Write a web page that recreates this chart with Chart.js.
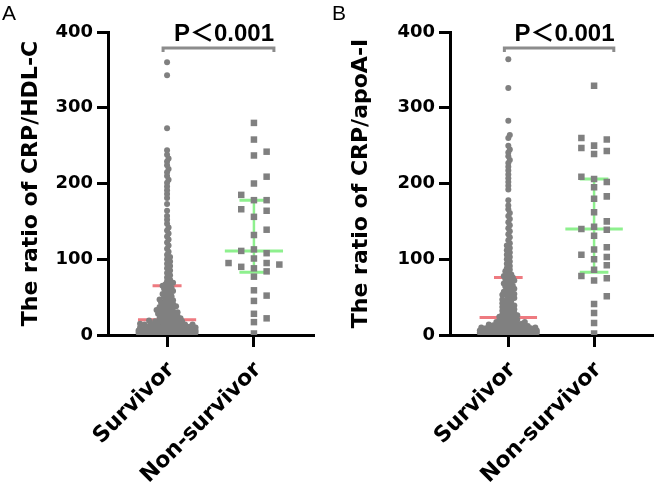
<!DOCTYPE html>
<html>
<head>
<meta charset="utf-8">
<script src="https://cdn.jsdelivr.net/npm/chart.js@4.4.1/dist/chart.umd.min.js"></script>
<style>
  html, body { margin: 0; padding: 0; background: #fff; }
  #wrap { position: relative; width: 657px; height: 482px; }
  canvas { position: absolute; top: 0; }
  #chartA { left: 0; }
  #chartB { left: 330px; }
</style>
</head>
<body>
<div id="wrap">
  <canvas id="chartA" width="330" height="482"></canvas>
  <canvas id="chartB" width="327" height="482"></canvas>
</div>
<script>
const groups = ['Survivor', 'Non-survivor'];
const yTicks = [0, 100, 200, 300, 400];

// Panel A: CRP/HDL-C
const survivorA = [360, 343, 273, 244, 238, 233, 229, 224, 219, 215, 210, 205, 201, 196, 191, 186, 181, 173, 164, 157,
  152, 147, 142, 138, 134, 130, 126, 122, 118, 114, 110, 106, 103, 100, 97, 94, 91, 88, 85, 82, 79, 76, 73, 71, 69, 67,
  66, 65, 63, 62, 61, 59, 58, 57, 55, 54, 53, 51, 50, 49, 47, 46, 46, 44, 43, 42, 41, 40, 39, 38, 37, 37, 36, 35, 34,
  33, 33, 32, 31, 30, 30, 29, 28, 27, 27, 26, 25, 25, 24, 23, 22, 22, 21, 20, 20, 19, 19, 18, 18, 17, 17, 16, 16, 15,
  15, 15, 14, 14, 14, 13, 13, 13, 12, 12, 12, 11, 11, 11, 10, 10, 10, 10, 9, 9, 9, 9, 8, 8, 8, 8, 8, 7, 7, 7, 7, 7, 6,
  6, 6, 6, 6, 6, 5, 5, 5, 5, 5, 5, 4, 4, 4, 4, 4, 4, 4, 3, 3, 3, 3, 3, 3, 3, 3, 2, 2, 2, 2, 2, 2, 2, 2, 2, 1, 1, 1, 1,
  1, 1, 1, 1, 1, 1, 0.5, 0.5, 0.5, 0.5, 0.5, 0.5, 0.5, 0.5];
const nonSurvivorA = [280, 258, 242, 237, 209, 200, 185, 178, 178, 166, 164, 156, 139, 132, 113, 111, 108, 101, 95, 95,
  93, 90, 88, 84, 77, 59, 52, 45, 28, 22, 17, 2];
const medianA = [20, 111];
const q1A = [5, 83];
const q3A = [65, 178];

// Panel B: CRP/apoA-I
const survivorB = [364, 326, 283, 264, 260, 250, 245, 241, 236, 231, 227, 222, 217, 212, 207, 202, 197, 192, 178, 171,
  166, 161, 157, 153, 149, 145, 141, 137, 133, 129, 125, 121, 118, 115, 112, 109, 106, 103, 100, 97, 94, 91, 88, 86,
  84, 82, 80, 78, 77, 76, 74, 73, 72, 70, 69, 68, 66, 65, 64, 62, 61, 60, 58, 57, 56, 54, 53, 52, 51, 49, 48, 47, 46,
  45, 43, 42, 41, 40, 39, 38, 37, 36, 35, 34, 33, 32, 31, 30, 29, 28, 27, 26, 26, 25, 24, 23, 23, 22, 21, 20, 20, 19,
  18, 18, 17, 17, 16, 16, 15, 15, 14, 14, 14, 13, 13, 12, 12, 12, 11, 11, 11, 10, 10, 10, 9, 9, 9, 9, 8, 8, 8, 8, 7,
  7, 7, 7, 7, 6, 6, 6, 6, 6, 5, 5, 5, 5, 5, 5, 4, 4, 4, 4, 4, 4, 3, 3, 3, 3, 3, 3, 3, 2, 2, 2, 2, 2, 2, 2, 2, 1, 1, 1,
  1, 1, 1, 1, 1, 1, 0.5, 0.5, 0.5, 0.5, 0.5, 0.5, 0.5];
const nonSurvivorB = [329, 260, 258, 250, 247, 243, 239, 209, 206, 202, 195, 183, 180, 162, 150, 143, 140, 139, 131, 116,
  113, 106, 103, 100, 92, 86, 78, 75, 72, 51, 41, 29, 16, 2];
const medianB = [23, 140];
const q1B = [6, 83];
const q3B = [76, 206];

const pLabel = 'P\uFF1C0.001';
const barColors = ['#ee7a80', '#8ef08e'];
const dotColor = '#808080';

// beeswarm offsets in pixel space, converted back through the x scale
function swarm(values, chart, center, step, minDist, maxOff) {
  const xs = chart.scales.x, ys = chart.scales.y;
  const cx = xs.getPixelForValue(center);
  const cands = [0];
  for (let k = 1; k * step <= maxOff; k++) cands.push(k * step, -k * step);
  const order = values.map((v, i) => i).sort((a, b) => values[a] - values[b]);
  const placed = [];
  const out = new Array(values.length);
  order.forEach(idx => {
    const py = ys.getPixelForValue(values[idx]);
    let best = 0, bestD = -1;
    for (const off of cands) {
      let d = Infinity;
      for (const p of placed) {
        if (Math.abs(p.py - py) >= minDist) continue;
        d = Math.min(d, Math.hypot(p.px - off, p.py - py));
      }
      if (d >= minDist) { best = off; break; }
      if (d > bestD) { bestD = d; best = off; }
    }
    placed.push({ px: best, py });
    out[idx] = { x: xs.getValueForPixel(cx + best), y: values[idx] };
  });
  return out;
}

const overlay = {
  id: 'overlay',
  beforeDatasetsDraw(chart, args, o) {
    const xs = chart.scales.x, ys = chart.scales.y, ctx = chart.ctx;
    ctx.save();
    for (let i = 0; i < groups.length; i++) {
      ctx.strokeStyle = barColors[i];
      ctx.lineWidth = 3;
      const yM = ys.getPixelForValue(o.median[i]);
      const y1 = ys.getPixelForValue(o.q1[i]);
      const y3 = ys.getPixelForValue(o.q3[i]);
      ctx.beginPath();
      ctx.moveTo(xs.getPixelForValue(i - 0.335), yM);
      ctx.lineTo(xs.getPixelForValue(i + 0.335), yM);
      ctx.moveTo(xs.getPixelForValue(i - 0.167), y1);
      ctx.lineTo(xs.getPixelForValue(i + 0.167), y1);
      ctx.moveTo(xs.getPixelForValue(i - 0.167), y3);
      ctx.lineTo(xs.getPixelForValue(i + 0.167), y3);
      ctx.stroke();
      ctx.lineWidth = 2.5;
      ctx.beginPath();
      ctx.moveTo(xs.getPixelForValue(i), y1);
      ctx.lineTo(xs.getPixelForValue(i), y3);
      ctx.stroke();
    }
    ctx.restore();
  },
  afterDraw(chart, args, o) {
    const xs = chart.scales.x, ys = chart.scales.y, ctx = chart.ctx;
    ctx.save();
    // significance bracket
    const by = ys.getPixelForValue(379);
    const bx0 = xs.getPixelForValue(-0.046), bx1 = xs.getPixelForValue(1.23);
    ctx.strokeStyle = '#8c8c8c';
    ctx.lineWidth = 3;
    ctx.beginPath();
    ctx.moveTo(bx0, by + 4); ctx.lineTo(bx0, by); ctx.lineTo(bx1, by); ctx.lineTo(bx1, by + 4);
    ctx.stroke();
    ctx.fillStyle = '#000';
    ctx.font = 'bold 24px "Liberation Sans", "Noto Sans CJK SC"';
    ctx.textAlign = 'center';
    ctx.textBaseline = 'alphabetic';
    ctx.fillText(pLabel, xs.getPixelForValue(0.655), by - 7);
    // panel letter
    ctx.font = '21px "Liberation Sans"';
    ctx.textAlign = 'left';
    ctx.textBaseline = 'top';
    ctx.fillText(o.letter, 2, 4);
    ctx.restore();
  }
};

function makeChart(id, title, surv, nonSurv, med, q1, q3, letter, rightPad, axisWidth) {
  const chart = new Chart(document.getElementById(id), {
    type: 'scatter',
    data: {
      datasets: [
        { label: groups[0], data: surv.map(v => ({ x: 0, y: v })), pointStyle: 'circle', pointRadius: 3,
          backgroundColor: dotColor, borderWidth: 0 },
        { label: groups[1], data: nonSurv.map(v => ({ x: 1, y: v })), pointStyle: 'rect', pointRadius: 4.6,
          backgroundColor: dotColor, borderWidth: 0 }
      ]
    },
    options: {
      responsive: false,
      animation: false,
      layout: { padding: { top: 32, right: rightPad, left: 0, bottom: 0 } },
      plugins: {
        legend: { display: false },
        tooltip: { enabled: false },
        overlay: { median: med, q1: q1, q3: q3, letter: letter }
      },
      scales: {
        x: {
          type: 'linear', min: -0.68, max: 1.68,
          afterBuildTicks: s => { s.ticks = [{ value: 0 }, { value: 1 }]; },
          afterFit: s => { s.height = 482 - 335; },
          border: { display: true, color: '#000', width: 3 },
          grid: { display: true, drawOnChartArea: false, drawTicks: true, tickLength: 12, lineWidth: 3, color: '#000' },
          ticks: {
            autoSkip: false, minRotation: 45, maxRotation: 45, padding: 10, labelOffset: 4, color: '#000',
            font: { family: 'DejaVu Sans', weight: 'bold', size: 22 },
            callback: v => groups[v]
          }
        },
        y: {
          min: 0, max: 400,
          afterBuildTicks: s => { s.ticks = yTicks.map(v => ({ value: v })); },
          afterFit: s => { s.width = axisWidth; },
          border: { display: true, color: '#000', width: 3 },
          grid: { display: true, drawOnChartArea: false, drawTicks: true, tickLength: 11, lineWidth: 3, color: '#000' },
          ticks: { padding: 4, color: '#000', font: { family: 'DejaVu Sans', weight: 'bold', size: 18 } },
          title: {
            display: true, text: title, color: '#000', padding: { top: 18, bottom: 0 },
            font: { family: 'DejaVu Sans', weight: 'bold', size: 22 }
          }
        }
      }
    },
    plugins: [overlay]
  });
  chart.data.datasets[0].data = swarm(surv, chart, 0, 1.5, 3.2, 29);
  chart.data.datasets[1].data = swarm(nonSurv, chart, 1, 12.7, 8, 26);
  chart.update('none');
  return chart;
}

makeChart('chartA', 'The ratio of CRP/HDL-C', survivorA, nonSurvivorA, medianA, q1A, q3A, 'A', 17, 108);
makeChart('chartB', 'The ratio of CRP/apoA-I', survivorB, nonSurvivorB, medianB, q1B, q3B, 'B', 1, 120);
</script>
</body>
</html>
